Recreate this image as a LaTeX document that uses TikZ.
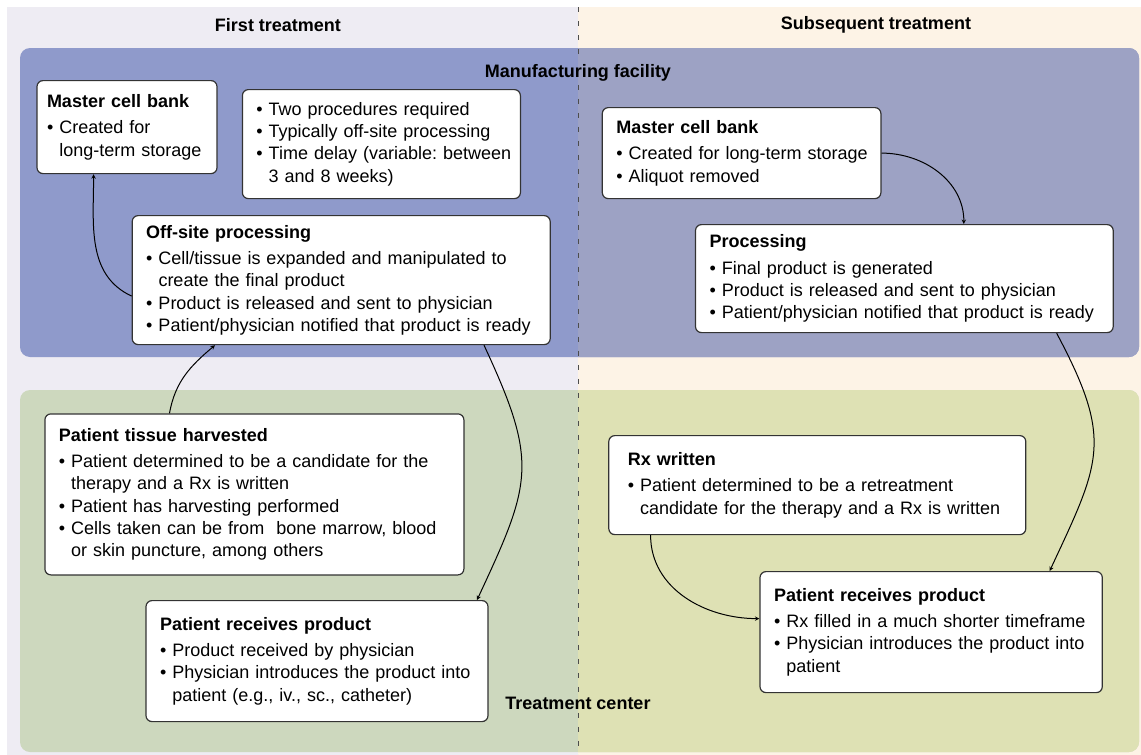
\documentclass[tikz,border=0pt]{standalone}
\usepackage{fontspec}
\setmainfont{Liberation Sans}
\usepackage{xcolor}
\usepackage{tikz}
\usetikzlibrary{arrows, positioning, backgrounds, calc}
\frenchspacing

\definecolor{bgfirst}{RGB}{238,236,243}
\definecolor{bgnext}{RGB}{253,243,230}
\definecolor{manufirst}{RGB}{143,154,203}
\definecolor{manunext}{RGB}{157,162,196}
\definecolor{treatfirst}{RGB}{205,216,190}
\definecolor{treatnext}{RGB}{222,225,180}

\newcommand{\itm}[1]{\mbox{\textbullet\ #1}}
\newcommand{\cnt}[1]{\mbox{\hphantom{\textbullet\ }#1}}

\begin{document}
\begin{tikzpicture}[x=1pt, y=1pt,
    box/.style={draw=black!80, line width=1.2pt, rounded corners=6pt, fill=white, anchor=north west, align=left, inner xsep=14pt, font=\fontsize{18}{22.3}\selectfont},
    region/.style={rounded corners=10pt},
    head/.style={font=\fontsize{18}{22}\selectfont\bfseries},
    divider/.style={line width=0.9pt, black!70, dash pattern=on 5pt off 9pt},
    arrow/.style={line width=1pt, ->, >=stealth}
]
\useasboundingbox (0,0) rectangle (1141,-755);

\fill[bgfirst] (7,-7) rectangle (578,-755);
\fill[bgnext] (578,-7) rectangle (1141,-755);

\foreach \ya/\yb/\ca/\cb in {-48/-357/manufirst/manunext, -390/-752/treatfirst/treatnext} {
  \fill[region, \ca] (20,\ya) rectangle (1139,\yb);
  \begin{scope}
    \clip (578,0) rectangle (1141,-755);
    \fill[region, \cb] (20,\ya) rectangle (1139,\yb);
  \end{scope}
}

\node[head] (firsthead) at (278,-25) {First treatment};
\node[head] (nexthead) at (876,-25) {Subsequent treatment};
\node[head] (manuhead) at (578,-73) {Manufacturing facility};
\node[head] (treathead) at (578,-703) {Treatment center};

\draw[divider] (578,-7) -- (manuhead.north);
\draw[divider] (manuhead.south) -- (treathead.north);
\draw[divider] (treathead.south) -- (578,-755);

\node[box, text width=160pt, inner xsep=10pt, minimum height=93pt] (mcbfirst) at (36.4,-80) {\textbf{Master cell bank}\\[4pt]
  \itm{Created for}\\ \cnt{long-term storage}};
\node[box, text width=250pt, minimum height=109pt] (notes) at (241.8,-89) {\itm{Two procedures required}\\
  \itm{Typically off-site processing}\\ \itm{Time delay (variable: between}\\ \cnt{3 and 8 weeks)}};
\node[box, text width=390pt, minimum height=129pt] (offsite) at (131.6,-215) {\textbf{Off-site processing}\\[4pt]
  \itm{Cell/tissue is expanded and manipulated to}\\ \cnt{create the final product}\\
  \itm{Product is released and sent to physician}\\ \itm{Patient/physician notified that product is ready}};
\node[box, text width=391pt, minimum height=161pt] (harvest) at (44.3,-413.3) {\textbf{Patient tissue harvested}\\[4pt]
  \itm{Patient determined to be a candidate for the}\\ \cnt{therapy and a Rx is written}\\
  \itm{Patient has harvesting performed}\\ \itm{Cells taken can be from\ \ bone marrow, blood}\\ \cnt{or skin puncture, among others}};
\node[box, text width=314pt, minimum height=121pt] (receivefirst) at (145.4,-600) {\textbf{Patient receives product}\\[4pt]
  \itm{Product received by physician}\\ \itm{Physician introduces the product into}\\ \cnt{patient (e.g., iv., sc., catheter)}};

\node[box, text width=250.6pt, minimum height=91pt] (mcbnext) at (601.7,-107) {\textbf{Master cell bank}\\[4pt]
  \itm{Created for long-term storage}\\ \itm{Aliquot removed}};
\node[box, text width=389.7pt, minimum height=108pt] (processing) at (694.9,-224) {\textbf{Processing}\\[4pt]
  \itm{Final product is generated}\\ \itm{Product is released and sent to physician}\\
  \itm{Patient/physician notified that product is ready}};
\node[box, text width=379pt, inner xsep=19pt, minimum height=99pt] (rxwritten) at (608.2,-435) {\textbf{Rx written}\\[4pt]
  \itm{Patient determined to be a retreatment}\\ \cnt{candidate for the therapy and a Rx is written}};
\node[box, text width=314.3pt, minimum height=121pt] (receivenext) at (759.4,-571) {\textbf{Patient receives product}\\[4pt]
  \itm{Rx filled in a much shorter timeframe}\\ \itm{Physician introduces the product into}\\ \cnt{patient}};

\draw[arrow] ([yshift=-16pt]offsite.west) to[out=155, in=-90] ([xshift=-33.4pt]mcbfirst.south);
\draw[arrow] ([xshift=-84.9pt]harvest.north) to[out=80, in=-140] ([xshift=-126.2pt]offsite.south);
\draw[arrow] ([xshift=142.8pt]offsite.south) to[out=-65, in=65, looseness=1.3] ([xshift=160pt]receivefirst.north);
\draw[arrow] (mcbnext.east) to[out=0, in=90] ([xshift=59.5pt]processing.north);
\draw[arrow] ([xshift=152.3pt]processing.south) to[out=-62, in=65, looseness=1.3] ([xshift=118.5pt]receivenext.north);
\draw[arrow] ([xshift=-166.7pt]rxwritten.south) to[out=-90, in=180] ([yshift=13.5pt]receivenext.west);

\end{tikzpicture}
\end{document}
